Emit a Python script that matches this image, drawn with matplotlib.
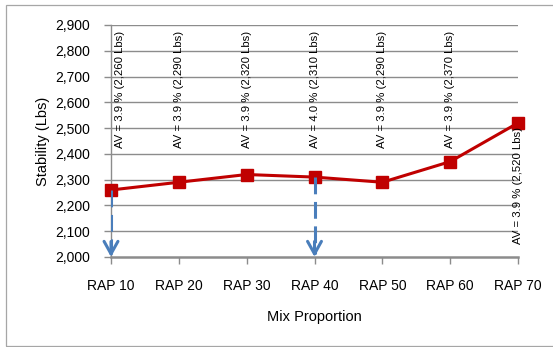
import numpy as np
import matplotlib.pyplot as plt
from matplotlib.patches import Rectangle

plt.rcParams['font.family'] = ['Liberation Sans', 'DejaVu Sans']

mixes = ["RAP 10", "RAP 20", "RAP 30", "RAP 40", "RAP 50", "RAP 60", "RAP 70"]
stability = [2260, 2290, 2320, 2310, 2290, 2370, 2520]
air_voids = [3.9, 3.9, 3.9, 4.0, 3.9, 3.9, 3.9]
# mixes marked with a dashed drop arrow
arrow_mixes = ["RAP 10", "RAP 40"]

red = "#c00000"
blue = "#4a7ebb"
grid = "#8c8c8c"

fig = plt.figure(figsize=(5.53, 3.47), dpi=100)
ax = fig.add_axes([111 / 553, 1 - 257 / 347, (518 - 111) / 553, (257 - 25) / 347])

# outer chart frame
fig.patches.append(Rectangle((6 / 553, 1 - 345.5 / 347), 1.0, (345.5 - 4.5) / 347,
                             transform=fig.transFigure, fill=False,
                             edgecolor="#a6a6a6", linewidth=0.9, zorder=0))

x = np.arange(len(mixes))
ax.set_xlim(0, len(mixes) - 1)
ax.set_ylim(2000, 2900)
ax.set_yticks(np.arange(2000, 2901, 100))
ax.set_yticklabels(["{:,}".format(v) for v in range(2000, 2901, 100)])
ax.set_xticks(x)
ax.set_xticklabels(mixes)

for y in range(2100, 2901, 100):
    ax.axhline(y, color=grid, linewidth=1.0, zorder=1)

for s in ["top", "right"]:
    ax.spines[s].set_visible(False)
ax.spines["left"].set_color(grid)
ax.spines["left"].set_linewidth(1.0)
ax.spines["bottom"].set_color(grid)
ax.spines["bottom"].set_linewidth(1.8)
ax.tick_params(axis="y", length=5, width=1.0, color=grid, pad=10, labelsize=10)
ax.tick_params(axis="x", length=5, width=1.0, color=grid, pad=11, labelsize=10)

ax.plot(x, stability, color=red, linewidth=2.2, marker="s", markersize=8.5,
        zorder=4, clip_on=False)

# dashed drop arrows down to the axis
for m in arrow_mixes:
    i = mixes.index(m)
    ax.plot([x[i], x[i]], [stability[i], 2000 + 10], color=blue, linewidth=2.2,
            dashes=(5.5, 2.5), zorder=5, solid_capstyle="butt")
    ax.annotate("", xy=(x[i], 2000), xytext=(x[i], 2060),
                arrowprops=dict(arrowstyle="->,head_length=0.9,head_width=0.5",
                                color=blue, linewidth=2.2, shrinkA=0, shrinkB=0),
                zorder=5)

# rotated data labels
for i, (av, st) in enumerate(zip(air_voids, stability)):
    dx = 0.13 if i == 0 else 0.0
    y0 = 2050 if i == len(mixes) - 1 else 2423
    ax.text(x[i] + dx, y0, "AV = {:.1f} % ({:,} Lbs)".format(av, st), rotation=90,
            ha="center", va="bottom", fontsize=8.2, zorder=6)

ax.set_ylabel("Stability (Lbs)", fontsize=10.5, labelpad=4)
ax.set_xlabel("Mix Proportion", fontsize=10.5, labelpad=12)

fig.savefig("out.png", dpi=100)
